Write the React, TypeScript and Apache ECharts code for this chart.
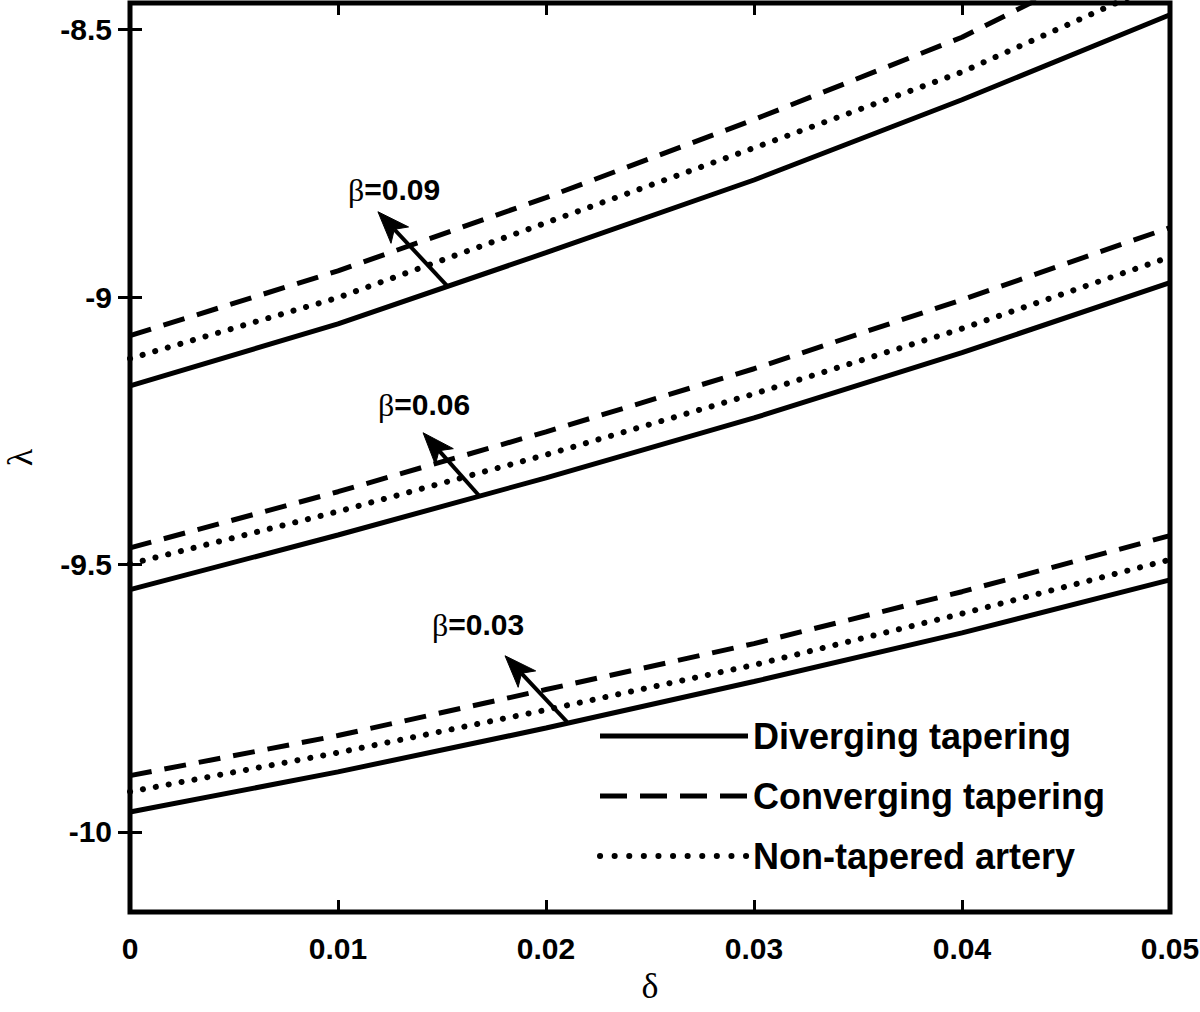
import React, { useEffect, useRef } from 'react';
import * as echarts from 'echarts';

const SANS = "'Liberation Sans', Arial, Helvetica, sans-serif";
const SERIF = "'Liberation Serif', 'Times New Roman', serif";

// x values (δ)
const deltaValues = [0, 0.01, 0.02, 0.03, 0.04, 0.05];
const yTickValues = [-10, -9.5, -9, -8.5];

// λ values
const divergingB009 = [-9.166, -9.05, -8.917, -8.781, -8.631, -8.472];
const convergingB009 = [-9.072, -8.951, -8.814, -8.668, -8.514, -8.32];
const nonTaperedB009 = [-9.115, -9.001, -8.861, -8.721, -8.579, -8.405];

const divergingB006 = [-9.547, -9.445, -9.338, -9.226, -9.104, -8.973];
const convergingB006 = [-9.469, -9.364, -9.252, -9.134, -9.005, -8.87];
const nonTaperedB006 = [-9.499, -9.401, -9.295, -9.181, -9.059, -8.925];

const divergingB003 = [-9.963, -9.888, -9.806, -9.719, -9.628, -9.529];
const convergingB003 = [-9.895, -9.82, -9.734, -9.648, -9.551, -9.446];
const nonTaperedB003 = [-9.925, -9.852, -9.772, -9.688, -9.592, -9.491];

const legendNames = ['Diverging tapering', 'Converging tapering', 'Non-tapered artery'];

// annotations: label text, label anchor (data), arrow tail (data), arrow tip (data)
const betaLabels = ['=0.09', '=0.06', '=0.03'];
const labelAnchors = [
  [0.01048, -8.7993],
  [0.01192, -9.2014],
  [0.01452, -9.6128],
];
const arrowTails = [
  [0.01529, -8.9807],
  [0.01683, -9.3734],
  [0.02101, -9.7943],
];
const arrowTips = [
  [0.01192, -8.8404],
  [0.01409, -9.2537],
  [0.01803, -9.6708],
];

const toPairs = (ys: number[]) => deltaValues.map((x, i) => [x, ys[i]]);

const solidStyle = { color: '#000', width: 5, type: 'solid' as const };
const dashedStyle = { color: '#000', width: 5, type: [22, 13] as any, cap: 'butt' as const };
const dottedStyle = { color: '#000', width: 6, type: [0.1, 13] as any, cap: 'round' as const };

function mkSeries(name: string, ys: number[], lineStyle: any) {
  return {
    type: 'line',
    name,
    data: toPairs(ys),
    showSymbol: false,
    symbol: 'none',
    lineStyle,
    itemStyle: { color: '#000' },
    emphasis: { disabled: true },
    silent: true,
    clip: true,
  };
}

export default function App() {
  const ref = useRef<HTMLDivElement>(null);
  useEffect(() => {
    document.body.style.margin = '0';
    const chart = echarts.init(ref.current!, null, { renderer: 'svg' });
    const axisTickStyle = { color: '#000', width: 3 };
    const option: any = {
      animation: false,
      backgroundColor: '#fff',
      grid: {
        left: 130,
        right: 30,
        top: 3,
        bottom: 100,
        containLabel: false,
        outerBoundsMode: 'none',
        show: true,
        borderColor: '#000',
        borderWidth: 5,
        backgroundColor: 'transparent',
      },
      legend: {
        orient: 'vertical',
        left: 592,
        top: 711,
        itemWidth: 148,
        itemHeight: 20,
        itemGap: 20,
        selectedMode: false,
        itemStyle: { opacity: 0 },
        data: [
          { name: legendNames[0], itemStyle: { opacity: 0 }, lineStyle: { width: 5, type: 'solid', color: '#000' } },
          { name: legendNames[1], itemStyle: { opacity: 0 }, lineStyle: { width: 5, type: [27, 13], color: '#000' } },
          { name: legendNames[2], itemStyle: { opacity: 0 }, lineStyle: { width: 6, type: [0.1, 14.5], cap: 'round', color: '#000' } },
        ],
        textStyle: {
          fontSize: 36,
          fontWeight: 'bold',
          fontFamily: SANS,
          color: '#000',
          lineHeight: 40,
        },
      },
      xAxis: [
        {
          type: 'value',
          position: 'bottom',
          min: 0,
          max: 0.05,
          interval: 0.01,
          axisLine: { show: false },
          axisTick: { show: true, inside: true, length: 12, lineStyle: axisTickStyle },
          axisLabel: {
            margin: 21,
            color: '#000',
            fontSize: 30,
            fontWeight: 'bold',
            fontFamily: SANS,
            formatter: (v: number) => (v === 0 ? '0' : v.toFixed(2)),
          },
          splitLine: { show: false },
          name: 'δ',
          nameLocation: 'middle',
          nameGap: 55,
          nameTextStyle: { fontFamily: SERIF, fontSize: 36, color: '#000' },
        },
        {
          type: 'value',
          position: 'top',
          min: 0,
          max: 0.05,
          interval: 0.01,
          axisLine: { show: false },
          axisTick: { show: true, inside: true, length: 12, lineStyle: axisTickStyle },
          axisLabel: { show: false },
          splitLine: { show: false },
        },
      ],
      yAxis: [
        {
          type: 'value',
          position: 'left',
          min: -10.15,
          max: -8.45,
          axisLine: { show: false },
          axisTick: { show: true, inside: true, length: 12, lineStyle: axisTickStyle, customValues: yTickValues },
          axisLabel: {
            customValues: yTickValues,
            margin: 18,
            color: '#000',
            fontSize: 30,
            fontWeight: 'bold',
            fontFamily: SANS,
          },
          splitLine: { show: false },
          name: 'λ',
          nameLocation: 'middle',
          nameRotate: 90,
          nameGap: 92,
          nameTextStyle: { fontFamily: SERIF, fontSize: 36, lineHeight: 36, color: '#000' },
        },
        {
          type: 'value',
          position: 'right',
          min: -10.15,
          max: -8.45,
          axisLine: { show: false },
          axisTick: { show: true, inside: true, length: 12, lineStyle: axisTickStyle, customValues: yTickValues },
          axisLabel: { show: false, customValues: yTickValues },
          splitLine: { show: false },
        },
      ],
      series: [
        mkSeries(legendNames[0], divergingB009, solidStyle),
        mkSeries(legendNames[1], convergingB009, dashedStyle),
        mkSeries(legendNames[2], nonTaperedB009, dottedStyle),
        mkSeries(legendNames[0], divergingB006, solidStyle),
        mkSeries(legendNames[1], convergingB006, dashedStyle),
        mkSeries(legendNames[2], nonTaperedB006, dottedStyle),
        mkSeries(legendNames[0], divergingB003, solidStyle),
        mkSeries(legendNames[1], convergingB003, dashedStyle),
        mkSeries(legendNames[2], nonTaperedB003, dottedStyle),
      ],
    };
    chart.setOption(option);

    // annotations positioned through the chart's own coordinate system
    const graphics: any[] = [];
    for (let i = 0; i < betaLabels.length; i++) {
      const a = chart.convertToPixel({ gridIndex: 0 }, labelAnchors[i]) as number[];
      graphics.push({
        type: 'text',
        x: a[0],
        y: a[1],
        z: 100,
        silent: true,
        style: {
          text: `{b|β}{n|${betaLabels[i]}}`,
          align: 'left',
          verticalAlign: 'middle',
          rich: {
            b: { fontFamily: SERIF, fontSize: 32, fill: '#000', fontWeight: 'normal' },
            n: { fontFamily: SANS, fontSize: 30, fill: '#000', fontWeight: 'bold' },
          },
        },
      });
      const t = chart.convertToPixel({ gridIndex: 0 }, arrowTails[i]) as number[];
      const h = chart.convertToPixel({ gridIndex: 0 }, arrowTips[i]) as number[];
      const dx = h[0] - t[0];
      const dy = h[1] - t[1];
      const len = Math.sqrt(dx * dx + dy * dy);
      const ux = dx / len;
      const uy = dy / len;
      const nx = -uy;
      const ny = ux;
      const L = 32;
      const W = 12;
      const notch = 8;
      const base = [h[0] - (L - notch) * ux, h[1] - (L - notch) * uy];
      graphics.push({
        type: 'line',
        z: 100,
        silent: true,
        shape: { x1: t[0], y1: t[1], x2: base[0], y2: base[1] },
        style: { stroke: '#000', lineWidth: 4 },
      });
      graphics.push({
        type: 'polygon',
        z: 100,
        silent: true,
        shape: {
          points: [
            [h[0], h[1]],
            [h[0] - L * ux + W * nx, h[1] - L * uy + W * ny],
            [base[0], base[1]],
            [h[0] - L * ux - W * nx, h[1] - L * uy - W * ny],
          ],
        },
        style: { fill: '#000', stroke: '#000', lineWidth: 1 },
      });
    }
    chart.setOption({ graphic: graphics });

    return () => chart.dispose();
  }, []);
  return <div ref={ref} style={{ width: 1200, height: 1012 }} />;
}
